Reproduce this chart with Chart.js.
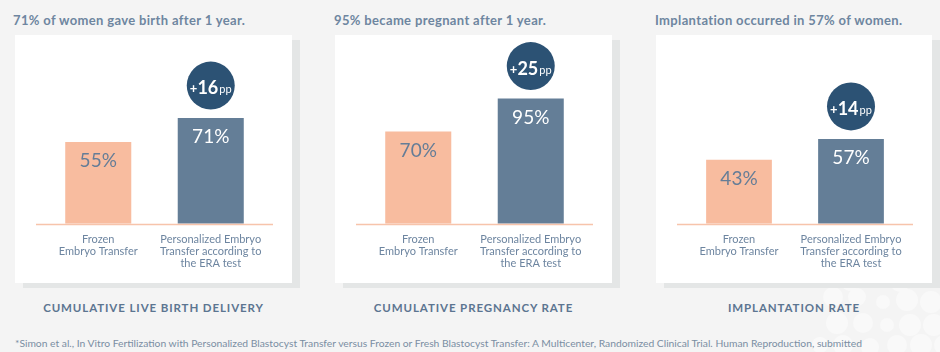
<!DOCTYPE html>
<html><head><meta charset="utf-8">
<script src="https://cdn.jsdelivr.net/npm/chart.js@4.4.1/dist/chart.umd.min.js"></script>
<style>
html,body{margin:0;padding:0;}
body{width:940px;height:352px;background:#f4f4f4;position:relative;overflow:hidden;font-family:Lato,"Open Sans",sans-serif;}
.title{position:absolute;top:12px;font-weight:700;font-size:13px;letter-spacing:0.35px;color:#6e86a0;white-space:nowrap;line-height:16px;}
.card{position:absolute;top:35px;width:277px;height:248px;background:#fff;box-shadow:8px 5px 0 #e4e6e6;}
.card canvas{position:absolute;left:0;top:0;}
.sub{position:absolute;top:300px;width:277px;text-align:center;font-weight:700;font-size:11.5px;letter-spacing:0.9px;color:#5c7591;line-height:16px;}
.foot{position:absolute;left:15px;top:335px;font-size:10.3px;color:#7a8ea3;white-space:nowrap;line-height:16px;}
.dot{position:absolute;border-radius:50%;background:#f9f9f9;}
</style></head>
<body>
<div id="dots"></div>
<div class="title" style="left:13px">71% of women gave birth after 1 year.</div>
<div class="title" style="left:334px">95% became pregnant after 1 year.</div>
<div class="title" style="left:655px">Implantation occurred in 57% of women.</div>
<div class="card" style="left:15px"><canvas id="c1" width="277" height="248"></canvas></div>
<div class="card" style="left:335px"><canvas id="c2" width="277" height="248"></canvas></div>
<div class="card" style="left:656px;width:276px"><canvas id="c3" width="276" height="248"></canvas></div>
<div class="sub" style="left:15px">CUMULATIVE LIVE BIRTH DELIVERY</div>
<div class="sub" style="left:335px">CUMULATIVE PREGNANCY RATE</div>
<div class="sub" style="left:656px;width:276px">IMPLANTATION RATE</div>
<div class="foot">*Simon et al., In Vitro Fertilization with Personalized Blastocyst Transfer versus Frozen or Fresh Blastocyst Transfer: A Multicenter, Randomized Clinical Trial. Human Reproduction, submitted</div>
<script>
const categories = [["Frozen","Embryo Transfer"],["Personalized Embryo","Transfer according to","the ERA test"]];
const liveBirth = [55, 71];
const pregnancy = [70, 95];
const implantation = [43, 57];
const barColors = ['#f8bc9f', '#647e97'];

// decorative background dots
const dotSpots = [[833,297,10],[857,297,9],[883,302,7],[907,300,11],[931,302,11],
  [837,323,11],[863,323,10],[887,325,7],[910,325,11],[934,325,11],
  [820,345,8],[843,345,10],[870,347,9],[897,345,10],[921,345,11],[944,345,10],
  [850,282,9],[900,282,10]];
const dots = document.getElementById('dots');
dotSpots.forEach(([x,y,r])=>{const d=document.createElement('div');d.className='dot';
  d.style.left=(x-r)+'px';d.style.top=(y-r)+'px';d.style.width=d.style.height=(2*r)+'px';dots.appendChild(d);});

const overlay = {
  id: 'overlay',
  afterDatasetsDraw(chart) {
    const ctx = chart.ctx, area = chart.chartArea;
    const meta = chart.getDatasetMeta(0), vals = chart.data.datasets[0].data;
    ctx.save();
    ctx.strokeStyle = '#f7c4ab'; ctx.lineWidth = 1.5;
    ctx.beginPath(); ctx.moveTo(area.left - 6, area.bottom + 0.75); ctx.lineTo(area.right + 6, area.bottom + 0.75); ctx.stroke();
    meta.data.forEach((bar, i) => {
      ctx.fillStyle = i === 0 ? '#657d97' : '#ffffff';
      ctx.font = '400 19px Lato'; ctx.textAlign = 'center'; ctx.textBaseline = 'middle';
      ctx.fillText(vals[i] + '%', bar.x, bar.y + 19);
    });
    const hi = meta.data[1];
    const cx = hi.x, cy = hi.y - 32.5;
    ctx.fillStyle = '#2c5274';
    ctx.beginPath(); ctx.arc(cx, cy, 24, 0, Math.PI * 2); ctx.fill();
    const diff = String(vals[1] - vals[0]);
    ctx.textAlign = 'left'; ctx.textBaseline = 'alphabetic'; ctx.fillStyle = '#fff';
    const fPlus = 'bold 13px Lato', fNum = 'bold 18px Lato', fPP = '11px Lato';
    ctx.font = fPlus; const wp = ctx.measureText('+').width;
    ctx.font = fNum; const wd = ctx.measureText(diff).width;
    ctx.font = fPP; const ws = ctx.measureText('pp').width;
    let x = cx - (wp + wd + ws + 1) / 2; const base = cy + 8.5;
    ctx.font = fPlus; ctx.fillText('+', x, base - 1); x += wp;
    ctx.font = fNum; ctx.fillText(diff, x, base); x += wd + 1;
    ctx.font = fPP; ctx.fillText('pp', x, base - 1);
    ctx.restore();
  }
};

function makeChart(id, values, topPad) {
  return new Chart(document.getElementById(id), {
    type: 'bar',
    data: { labels: categories, datasets: [{ data: values, backgroundColor: barColors, borderWidth: 0,
      barPercentage: 0.587, categoryPercentage: 1 }] },
    options: {
      responsive: false, animation: false, devicePixelRatio: 1,
      layout: { padding: { left: 27, right: 25, top: topPad, bottom: 4 } },
      plugins: { legend: { display: false }, tooltip: { enabled: false } },
      scales: {
        y: { display: false, min: 0, max: 100 },
        x: { grid: { display: false, drawTicks: false }, border: { display: false },
             ticks: { color: '#6d85a0', font: { family: 'Lato', size: 11, lineHeight: 1.07 }, padding: 10, maxRotation: 0, autoSkip: false } }
      }
    },
    plugins: [overlay]
  });
}
makeChart('c1', liveBirth, 40);
makeChart('c2', pregnancy, 57);
makeChart('c3', implantation, 40);
</script>
</body></html>
